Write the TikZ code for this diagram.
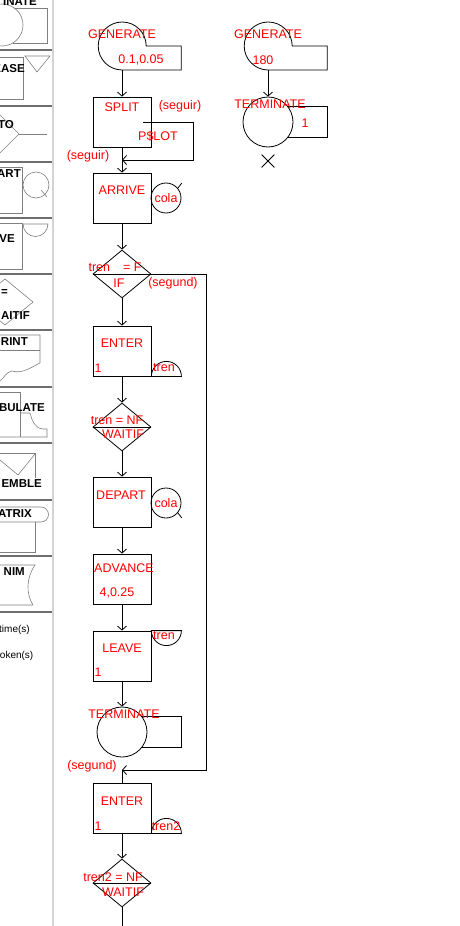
\documentclass[tikz,border=0pt]{standalone}
\usepackage{fontspec}
\setmainfont{Liberation Sans}
\usepackage{tikz}
\usetikzlibrary{arrows.meta}
\usetikzlibrary{positioning}
\usetikzlibrary{shapes.geometric}
\usetikzlibrary{shapes.misc}
\usetikzlibrary{calc}
\definecolor{palgrey}{HTML}{808080}
\definecolor{palrule}{HTML}{6E6E6E}
\definecolor{paledge}{HTML}{D4D4D4}
\tikzstyle{edge} = [line width = 0.8pt]
\tikzstyle{flow} = [edge, -{Straight Barb[length = 4pt, width = 9pt]}]
\tikzstyle{block box} = [draw, edge, minimum width = 58pt, minimum height = 50pt, inner sep = 0]
\tikzstyle{block test} = [draw, edge, diamond, minimum width = 58pt, minimum height = 48pt, inner sep = 0]
\tikzstyle{block circ} = [draw, edge, circle, minimum size = 50pt, inner sep = 0]
\tikzstyle{gen circ} = [circle, minimum size = 48pt, inner sep = 0]
\tikzstyle{store circ} = [draw, edge, circle, minimum size = 30pt, inner sep = 0, text = red, font = \fontsize{12.5}{14}\selectfont]
\tikzstyle{red text} = [text = red, inner sep = 0, font = \fontsize{12.5}{14}\selectfont]
\tikzstyle{pal text} = [anchor = east, inner sep = 0, font = \bfseries\fontsize{11.5}{13}\selectfont]
\tikzstyle{pal note} = [anchor = west, inner sep = 0, font = \fontsize{10}{12}\selectfont]
\tikzstyle{pal shape} = [draw = palgrey, line width = 0.6pt]
\begin{document}
\begin{tikzpicture}[x = 1pt, y = -1pt]
            \useasboundingbox (0, 0) rectangle (460, 926);
            \clip (0, 0) rectangle (460, 926);

            % block palette
            \draw [paledge, line width = 1.2pt] (53, 0) -- (53, 926);
            \foreach \y in {50, 106, 162, 218, 274, 330, 387, 443, 500, 556, 612}
            {
                \draw [palrule, line width = 1.2pt] (0, \y) -- (52, \y);
            }

            \draw [pal shape] (2, 25) circle [radius = 21pt];
            \draw [pal shape] (14, 8) -- (47, 8) -- (47, 43) -- (13, 43);
            \draw [pal shape] (0, 57) -- (23, 57) -- (23, 99) -- (0, 99);
            \draw [pal shape] (25, 56) -- (50, 56) -- (37, 72) -- cycle;
            \draw [pal shape] (0, 115) -- (19, 134) -- (0, 153);
            \draw [pal shape] (19, 134) -- (47, 134);
            \draw [pal shape] (0, 167) -- (22, 167) -- (22, 213) -- (0, 213);
            \draw [pal shape] (36, 185) circle [radius = 13pt];
            \draw [pal shape] (41, 190) -- (47, 197);
            \draw [pal shape] (0, 223) -- (22, 223) -- (22, 269) -- (0, 269);
            \draw [pal shape] (23, 224) -- (48, 224)
                  arc [start angle = 0, end angle = -180, radius = 12.5pt];
            \draw [pal shape] (-23, 302) -- (5, 279) -- (33, 302) -- (5, 325) -- cycle;
            \draw [pal shape] (0, 335) -- (40, 335) -- (40, 363)
                  .. controls (30, 368) and (22, 374) .. (12, 371)
                  .. controls (6, 372) and (4, 378) .. (0, 381);
            \draw [pal shape] (0, 350) -- (40, 350);
            \draw [pal shape] (0, 392) -- (20, 392) -- (20, 437);
            \draw [pal shape] (0, 437) -- (47, 437) -- (47, 429) -- (43, 429)
                  .. controls (34, 428) and (32, 420) .. (30, 413) -- (20, 413);
            \draw [pal shape] (0, 453) -- (35, 453) -- (35, 478);
            \draw [pal shape] (0, 460) -- (18, 475) -- (35, 454);
            \draw [pal shape] (0, 507) -- (41, 507)
                  arc [start angle = 90, end angle = -90, radius = 7.5pt] -- (0, 522);
            \draw [pal shape] (35, 522) -- (35, 552) -- (0, 552);
            \draw [pal shape] (0, 565) -- (35, 565)
                  .. controls (26, 578) and (26, 594) .. (33, 605) -- (0, 605);

            \node [pal text] (p terminate) at (37, 2) {INATE};
            \node [pal text] (p release) at (25, 69) {EASE};
            \node [pal text] (p transfer) at (14, 125) {TO};
            \node [pal text] (p depart) at (21, 174) {ART};
            \node [pal text] (p leave) at (15, 239) {VE};
            \node [pal text] (p test) at (8, 293) {=};
            \node [pal text] (p waitif) at (30, 316) {AITIF};
            \node [pal text] (p print) at (28, 342) {RINT};
            \node [pal text] (p tabulate) at (45, 408) {BULATE};
            \node [pal text] (p assemble) at (42, 484) {EMBLE};
            \node [pal text] (p matrix) at (32, 514) {ATRIX};
            \node [pal text] (p anim) at (25, 572) {NIM};
            \node [pal note] (p time) at (-1, 630) {time(s)};
            \node [pal note] (p token) at (-3, 656) {token(s)};

            % main segment
            \node [gen circ] (gen1) at (122, 46) {};
            \draw [edge] (gen1.east) arc [start angle = 0, end angle = 270, radius = 24pt]
                  -- ++(59, 0) -- ++(0, -24) -- cycle;
            \node [block box] (split) at (122, 122) {};
            \node [block box] (arrive) at (122, 198) {};
            \node [store circ] (cola1) at (166, 198) {cola};
            \node [block test] (if) at (122, 274) {};
            \node [block box] (enter1) at (122, 351) {};
            \node [block test] (wait1) at (122, 427) {};
            \node [block box] (depart) at (122, 502) {};
            \node [store circ] (cola2) at (166, 503) {cola};
            \node [block box] (advance) at (122, 579) {};
            \node [block box] (leave) at (122, 656) {};
            \node [block circ] (term2) at (122, 732) {};
            \node [block box] (enter2) at (122, 808) {};
            \node [block test] (wait2) at (122, 883) {};

            \coordinate (split out) at (143, 122);
            \coordinate (seguir in) at (122, 160);
            \coordinate (segund in) at (122, 770);
            \coordinate (exit) at (122, 930);

            \draw [edge] (cola1.40) -- ++(4, -5);
            \draw [edge] (cola2.-40) -- ++(4, 5);
            \draw [edge] (enter1.south east)
                  arc [start angle = 180, end angle = 0, radius = 15pt] -- cycle;
            \draw [edge] (enter2.south east)
                  arc [start angle = 180, end angle = 0, radius = 15pt] -- cycle;
            \draw [edge] (leave.north east)
                  arc [start angle = 180, end angle = 360, radius = 15pt] -- cycle;
            \draw [edge] (term2.37) -- ++(39, 0) |- (term2.-37);
            \foreach \d in {if, wait1, wait2}
            {
                \draw [edge] (\d.west) -- (\d.east);
            }

            \draw [flow] (gen1.south) -- (split.north);
            \draw [flow] (split.south) -- (arrive.north);
            \draw [flow] (split out) -- ++(50, 0) |- (seguir in);
            \draw [flow] (arrive.south) -- (if.north);
            \draw [flow] (if.south) -- (enter1.north);
            \draw [flow] (enter1.south) -- (wait1.north);
            \draw [flow] (wait1.south) -- (depart.north);
            \draw [flow] (depart.south) -- (advance.north);
            \draw [flow] (advance.south) -- (leave.north);
            \draw [flow] (leave.south) -- (term2.north);
            \draw [flow] (if.east) -- ++(55, 0) |- (segund in);
            \draw [edge] (segund in) -- (enter2.north);
            \draw [flow] (enter2.south) -- (wait2.north);
            \draw [edge] (wait2.south) -- (exit);

            \node [red text] (t gen1) at (122, 34) {GENERATE};
            \node [red text] (t gen1 a) at (141, 60) {0.1,0.05};
            \node [red text] (t split) at (122, 107) {SPLIT};
            \node [red text] (t seguir a) at (180, 106) {(seguir)};
            \node [red text] (t pslot) at (158, 136) {P\$LOT};
            \node [red text] (t seguir b) at (88, 156) {(seguir)};
            \node [red text] (t arrive) at (122, 190) {ARRIVE};
            \node [red text] (t if a) at (115, 267) {tren\hspace{13pt}= F};
            \node [red text] (t if) at (119, 283) {IF};
            \node [red text] (t segund a) at (173, 283) {(segund)};
            \node [red text] (t enter1) at (122, 343) {ENTER};
            \node [red text] (t enter1 a) at (98, 368) {1};
            \node [red text] (t enter1 b) at (164, 368) {tren};
            \node [red text] (t wait1 a) at (117, 420) {tren = NF};
            \node [red text] (t wait1) at (123, 434) {WAITIF};
            \node [red text] (t depart) at (121, 495) {DEPART};
            \node [red text] (t advance) at (124, 568) {ADVANCE};
            \node [red text] (t advance a) at (117, 593) {4,0.25};
            \node [red text] (t leave) at (122, 648) {LEAVE};
            \node [red text] (t leave a) at (98, 672) {1};
            \node [red text] (t leave b) at (164, 636) {tren};
            \node [red text] (t term2) at (124, 714) {TERMINATE};
            \node [red text] (t segund b) at (92, 766) {(segund)};
            \node [red text] (t enter2) at (122, 801) {ENTER};
            \node [red text] (t enter2 a) at (98, 826) {1};
            \node [red text] (t enter2 b) at (166, 826) {tren2};
            \node [red text] (t wait2 a) at (113, 877) {tren2 = NF};
            \node [red text] (t wait2) at (123, 892) {WAITIF};

            % timer segment
            \node [gen circ] (gen2) at (268, 46) {};
            \draw [edge] (gen2.east) arc [start angle = 0, end angle = 270, radius = 24pt]
                  -- ++(59, 0) -- ++(0, -24) -- cycle;
            \node [block circ] (term1) at (268, 122) {};
            \draw [edge] (term1.37) -- ++(39, 0) |- (term1.-37);
            \node [draw, edge, cross out, minimum size = 12pt, inner sep = 0] (stop) at (268, 161) {};
            \draw [flow] (gen2.south) -- (term1.north);

            \node [red text] (t gen2) at (268, 34) {GENERATE};
            \node [red text] (t gen2 a) at (263, 60) {180};
            \node [red text] (t term1) at (270, 104) {TERMINATE};
            \node [red text] (t term1 a) at (305, 123) {1};
        \end{tikzpicture}
\end{document}
